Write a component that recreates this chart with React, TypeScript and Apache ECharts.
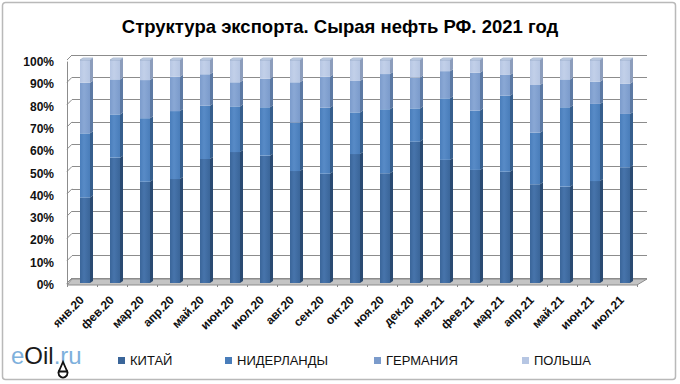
import React, { useEffect, useRef } from "react";
import * as echarts from "echarts";

const titleText = "Структура экспорта. Сырая нефть РФ. 2021 год";
const categories = [
  "янв.20", "фев.20", "мар.20", "апр.20", "май.20", "июн.20", "июл.20", "авг.20", "сен.20", "окт.20",
  "ноя.20", "дек.20", "янв.21", "фев.21", "мар.21", "апр.21", "май.21", "июн.21", "июл.21",
];
const seriesNames = ["КИТАЙ", "НИДЕРЛАНДЫ", "ГЕРМАНИЯ", "ПОЛЬША"];
const china = [38.3, 56.2, 45.4, 46.6, 55.6, 58.7, 57.1, 50.2, 49.0, 57.8, 49.2, 63.4, 55.2, 50.7, 49.9, 44.3, 43.2, 45.7, 51.9];
const netherlands = [28.8, 19.4, 28.5, 30.5, 23.9, 20.5, 21.7, 21.7, 29.6, 18.7, 28.7, 14.9, 27.6, 26.6, 34.1, 23.1, 35.6, 34.6, 23.9];
const germany = [22.7, 15.7, 17.1, 15.4, 14.1, 10.8, 12.8, 18.1, 13.9, 14.1, 15.8, 13.8, 12.2, 17.0, 9.3, 21.4, 12.5, 10.0, 13.5];
const poland = [10.2, 8.7, 9.0, 7.5, 6.4, 10.0, 8.4, 10.0, 7.5, 9.4, 6.3, 7.9, 5.0, 5.7, 6.7, 11.2, 8.7, 9.7, 10.7];
const yTicks = [0, 10, 20, 30, 40, 50, 60, 70, 80, 90, 100];

const FONT = "Arial";

const palette = [
  { front: "#3A6599", light: "#4774AB", side: "#2A4A71" },
  { front: "#497DBA", light: "#588BC7", side: "#365E8C" },
  { front: "#7B9BCB", light: "#8AA8D5", side: "#5C79A3" },
  { front: "#B6C6E3", light: "#C2D0E9", side: "#8C9DBC" },
];

function makeRender(k: number, isTop: boolean) {
  const c = palette[k];
  return (params: any, api: any) => {
    const i = api.value(0);
    const p0 = api.coord([i, api.value(1)]);
    const p1 = api.coord([i, api.value(2)]);
    const w = 10, d = 3, dy = 2;
    const x = p0[0] - 2;
    const yT = p1[1];
    const yB = p0[1];
    const children: any[] = [
      {
        type: "rect",
        shape: { x, y: yT, width: w, height: yB - yT },
        style: {
          fill: {
            type: "linear", x: 0, y: 0, x2: 1, y2: 0,
            colorStops: [
              { offset: 0, color: c.front },
              { offset: 0.4, color: c.light },
              { offset: 1, color: c.front },
            ],
          },
        },
      },
      {
        type: "polygon",
        shape: { points: [[x + w, yT], [x + w + d, yT - dy], [x + w + d, yB - dy], [x + w, yB]] },
        style: { fill: c.side },
      },
    ];
    if (isTop) {
      children.push({
        type: "polygon",
        shape: { points: [[x, yT], [x + d, yT - dy], [x + w + d, yT - dy], [x + w, yT]] },
        style: { fill: "#CDD9EC", stroke: "#8C9DBC", lineWidth: 0.6 },
      });
    }
    return { type: "group", children };
  };
}

export default function App() {
  const ref = useRef<HTMLDivElement>(null);
  useEffect(() => {
    if (!ref.current) return;
    const chart = echarts.init(ref.current, null, { renderer: "svg" });
    const all = [china, netherlands, germany, poland];
    const starts = categories.map(() => 0);
    const series: any[] = all.map((vals, k) => {
      const data = vals.map((v, i) => {
        const s = starts[i];
        starts[i] = s + v;
        return [i, s, s + v];
      });
      return {
        type: "custom",
        name: seriesNames[k],
        xAxisIndex: 0,
        yAxisIndex: 0,
        z: 3,
        itemStyle: { color: palette[k].front },
        encode: { x: 0, y: [1, 2] },
        renderItem: makeRender(k, k === all.length - 1),
        data,
      };
    });
    series.push({
      type: "custom",
      name: "stubs",
      xAxisIndex: 1,
      yAxisIndex: 1,
      z: 1,
      silent: true,
      renderItem: (params: any, api: any) => {
        const p = api.coord([0, api.value(1)]);
        return {
          type: "line",
          shape: { x1: p[0], y1: p[1], x2: p[0] - 5, y2: p[1] + 5 },
          style: { stroke: "#8C8C8C", lineWidth: 1 },
        };
      },
      data: yTicks.map((v) => [0, v]),
    });

    const legendLeft = [113, 220, 369, 517];
    chart.setOption({
      animation: false,
      backgroundColor: "#ffffff",
      title: {
        text: titleText,
        left: "center",
        top: 12,
        textStyle: { fontSize: 18.5, fontWeight: "bold", fontFamily: FONT, color: "#000" },
      },
      legend: seriesNames.map((n, k) => ({
        data: [n],
        left: legendLeft[k],
        top: 349,
        icon: "rect",
        itemWidth: 7,
        itemHeight: 7,
        selectedMode: false,
        textStyle: { fontSize: 13, fontFamily: FONT, color: "#111" },
      })),
      grid: [
        { left: 67, top: 60, width: 570, height: 223 },
        { left: 72, top: 55, width: 575, height: 223 },
        { left: 67, top: 62, width: 570, height: 223 },
      ],
      xAxis: [
        {
          type: "category",
          gridIndex: 0,
          data: categories,
          offset: 4,
          axisLine: { show: true, lineStyle: { color: "#8C8C8C" } },
          axisTick: { show: true, length: 4, interval: 0, lineStyle: { color: "#8C8C8C" } },
          axisLabel: {
            interval: 0,
            rotate: 45,
            margin: 11,
            fontSize: 12,
            fontWeight: "bold",
            fontFamily: FONT,
            color: "#111",
          },
        },
        { type: "value", gridIndex: 1, min: 0, max: 1, show: false },
        { type: "value", gridIndex: 2, min: 0, max: 1, show: false },
      ],
      yAxis: [
        { type: "value", gridIndex: 0, min: 0, max: 100, show: false },
        {
          type: "value",
          gridIndex: 1,
          min: 0,
          max: 100,
          interval: 10,
          axisLine: { show: false },
          axisTick: { show: false },
          axisLabel: { show: false },
          splitLine: { show: true, lineStyle: { color: "#8C8C8C", width: 1 } },
        },
        {
          type: "value",
          gridIndex: 2,
          min: 0,
          max: 100,
          interval: 10,
          axisLine: { show: true, lineStyle: { color: "#8C8C8C" } },
          axisTick: { show: false },
          splitLine: { show: false },
          axisLabel: {
            formatter: "{value}%",
            margin: 13,
            fontSize: 12,
            fontWeight: "bold",
            fontFamily: FONT,
            color: "#111",
          },
        },
      ],
      graphic: [
        {
          type: "rect",
          z: -1,
          shape: { x: 2.5, y: 2.5, width: 673, height: 377, r: 3 },
          style: { fill: "none", stroke: "#B9B9B9", lineWidth: 1.5 },
        },
        {
          type: "polygon",
          z: 1,
          shape: { points: [[67, 285], [72, 279], [647, 279], [637, 285]] },
          style: { fill: "#C4C4C4", stroke: "#8C8C8C", lineWidth: 1 },
        },
        {
          type: "text",
          z: 5,
          x: 11,
          y: 343,
          style: {
            text: "{a|e}{b|Oil}{a|.ru}",
            font: "24px " + FONT,
            rich: {
              a: { fill: "#7DB0DC", fontSize: 24, fontFamily: FONT },
              b: { fill: "#1A1A1A", fontSize: 24, fontFamily: FONT },
            },
          },
        },
        {
          type: "circle",
          z: 6,
          shape: { cx: 63, cy: 373, r: 4.5 },
          style: { fill: "#FFFFFF", stroke: "#111", lineWidth: 1.8 },
        },
        {
          type: "polygon",
          z: 6,
          shape: { points: [[58.8, 371.5], [63, 362], [67.2, 371.5]] },
          style: { fill: "#FFFFFF", stroke: "#111", lineWidth: 1.8 },
        },
      ],
      series,
    });
    return () => chart.dispose();
  }, []);
  return (
    <div
      ref={ref}
      style={{ position: "fixed", left: 0, top: 0, width: 680, height: 384, background: "#fff" }}
    />
  );
}
